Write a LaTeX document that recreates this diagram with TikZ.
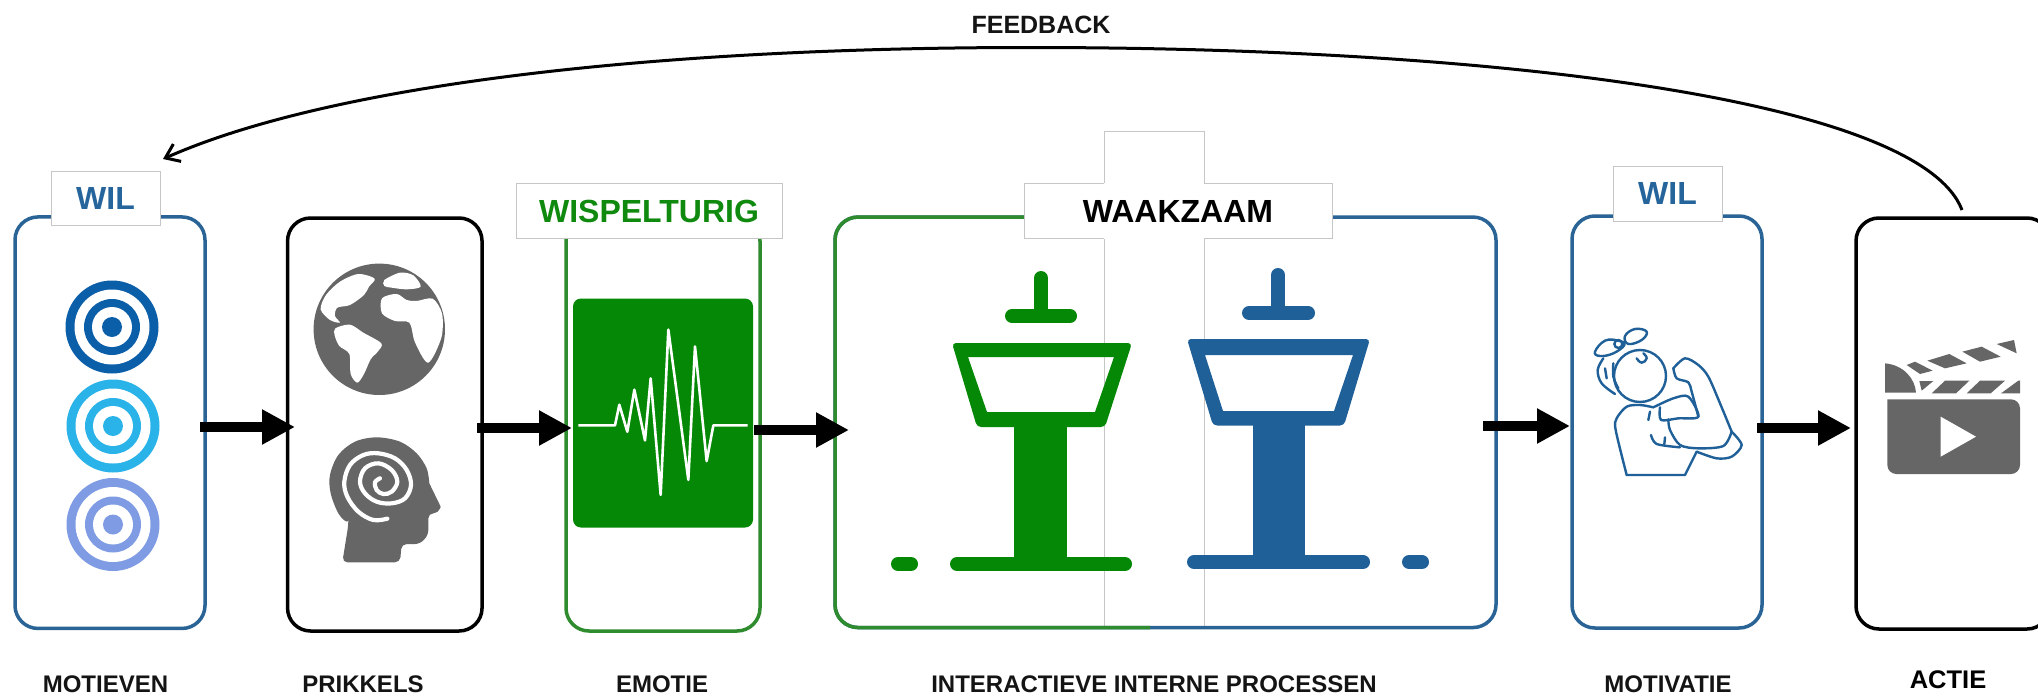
\documentclass[tikz,border=0pt]{standalone}
\usepackage{fontspec}
\setmainfont{Liberation Sans}
\usetikzlibrary{arrows.meta}
\definecolor{boxblue}{HTML}{2A6496}
\definecolor{boxgreen}{HTML}{2E8B2E}
\definecolor{iconblue}{HTML}{1F6098}
\definecolor{icongreen}{HTML}{058805}
\definecolor{icongray}{HTML}{666666}
\definecolor{lblgreen}{HTML}{0F8A0F}
\definecolor{lblblue}{HTML}{25659B}
\definecolor{edgegray}{HTML}{C6C6C6}
\tikzset{
  procbox/.style={rectangle,rounded corners=23pt,line width=3.5pt,inner sep=0pt,outer sep=0pt},
  tag/.style={rectangle,draw=edgegray,fill=white,line width=1pt,inner sep=0pt,outer sep=0pt,font=\fontsize{32}{32}\selectfont\bfseries},
  caption/.style={inner sep=0pt,font=\fontsize{24}{24}\selectfont\bfseries,text=black!92},
  flow/.style={line width=10.5pt,-{Triangle[length=33pt,width=33pt]}},
  pill/.style={line width=14pt,line cap=round},
  zoomthree/.style={x=.33333pt,y=-.33333pt},
}
\begin{document}
\begin{tikzpicture}[x=1pt,y=-1pt]
\path[use as bounding box,fill=white] (0,0) rectangle (2038,696);
\clip (0,0) rectangle (2038,696);

% column behind the WAAKZAAM tag
\node[rectangle,draw=edgegray,line width=1pt,inner sep=0pt,outer sep=0pt,minimum width=100pt,minimum height=497pt] (col) at (1154,380) {};

% process boxes
\node[procbox,draw=boxblue,minimum width=190pt,minimum height=411.5pt] (b1) at (110,422.7) {};
\node[procbox,draw=black,minimum width=194.5pt,minimum height=413pt] (b2) at (384.8,424.5) {};
\node[procbox,draw=boxgreen,minimum width=194pt,minimum height=413pt] (b3) at (663,424.5) {};
\node[procbox,draw=boxblue,minimum width=661pt,minimum height=410.5pt] (b4) at (1165.5,422.3) {};
\coordinate (split) at (1150,423);
\draw[boxgreen,line width=3.5pt,rounded corners=23pt] (split |- b4.south) -| (b4.north west) -- (split |- b4.north);
\node[procbox,draw=boxblue,minimum width=190pt,minimum height=412pt] (b5) at (1667,422) {};
\node[procbox,draw=black,minimum width=194pt,minimum height=411pt] (b6) at (1953,423.5) {};

% tags
\node[tag,text=lblblue,minimum width=109pt,minimum height=54pt] (t1) at (105.5,198) {WIL};
\node[tag,text=lblgreen,minimum width=266pt,minimum height=54.5pt] (t3) at (649,211) {WISPELTURIG};
\node[tag,text=black,minimum width=308pt,minimum height=54.5pt] (t4) at (1178,211) {WAAKZAAM};
\draw[white,line width=2pt] (col.west |- t4.north) -- (col.east |- t4.north);
\draw[white,line width=2pt] (col.west |- t4.south) -- (col.east |- t4.south);
\node[tag,text=lblblue,minimum width=109pt,minimum height=55pt] (t5) at (1667.5,193.5) {WIL};

% targets
\foreach \cx/\cy/\col in {112/327/0B5EA8, 113/426/29B3E8, 113/524.5/7E9BE3}{
  \definecolor{ringcol}{HTML}{\col}
  \fill[ringcol] (\cx,\cy) circle[radius=46.5];
  \fill[white] (\cx,\cy) circle[radius=37.5];
  \fill[ringcol] (\cx,\cy) circle[radius=28];
  \fill[white] (\cx,\cy) circle[radius=20];
  \fill[ringcol] (\cx,\cy) circle[radius=10];
}

% globe
\fill[icongray] (379.3,329.3) circle[radius=65.7];
\begin{scope}[shift={(300pt,-250pt)},zoomthree]
\fill[white] plot[smooth cycle,tension=.5] coordinates {(62,178)(78,135)(120,95)(175,72)(224,86)(207,110)(192,135)(150,165)(112,173)(105,198)(120,218)(90,210)};
\fill[white] plot[smooth cycle,tension=.5] coordinates {(253,90)(300,68)(340,76)(362,110)(320,118)(275,113)(253,108)};
\fill[white] plot[smooth cycle,tension=.5] coordinates {(106,235)(150,224)(190,248)(244,280)(234,304)(212,328)(192,372)(172,398)(152,372)(148,312)(118,288)(104,256)};
\fill[white] plot[smooth cycle,tension=.5] coordinates {(246,145)(290,132)(320,150)(350,153)(398,146)(426,190)(426,255)(404,312)(385,338)(368,322)(343,272)(328,218)(285,213)(246,190)};
\end{scope}

% head with spiral
\begin{scope}[shift={(310pt,-425pt)},zoomthree]
\fill[icongray] plot[smooth,tension=.55] coordinates {(115,300)(85,265)(62,205)(60,150)(85,90)(135,50)(200,37)(270,50)(320,85)(350,130)(358,175)}
  -- (392,245) [rounded corners=5pt] -- (385,265) -- (355,265) -- (355,330) -- (330,357) -- (275,357) -- (270,412) -- (97,412) -- (115,300) -- cycle;
\draw[white,line width=4.2pt,line cap=round] plot[smooth,tension=.6] coordinates {(232,281)(190,285)(145,260)(112,215)(103,170)(120,120)(160,90)(205,85)(255,100)(290,135)(303,180)(285,220)(245,235)(200,230)(165,205)(150,170)(165,130)(205,115)(245,135)(262,170)(245,200)(220,207)(200,195)(195,172)(210,160)};
\end{scope}

% emotion tile
\node[rectangle,fill=icongreen,rounded corners=8pt,inner sep=0pt,minimum width=180pt,minimum height=229pt] (tile) at (663,413) {};
\begin{scope}[shift={(520pt,-108pt)},x=.33333pt,y=-.3756pt]
\draw[white,line width=2.6pt,line join=round] (175,845) -- (285,845) -- (298,790) -- (322,862) -- (343,750) -- (375,885) -- (392,720) -- (422,1030) -- (445,590) -- (505,990) -- (525,635) -- (560,940) -- (580,845) -- (683,845);
\end{scope}

% green tower
\fill[icongreen,even odd rule,rounded corners=4pt] (952,343) -- (1132,343) -- (1105,427) -- (977,427) -- cycle
  [sharp corners] (968,357) -- (1114,357) -- (1095,412) -- (987,412) -- cycle;
\fill[icongreen] (1014,420) rectangle (1067,564);
\draw[icongreen,pill] (957,564) -- (1125,564);
\draw[icongreen,pill] (898,564) -- (911,564);
\draw[icongreen,pill] (1012,316) -- (1070,316);
\draw[icongreen,pill] (1041,278) -- (1041,316);

% blue tower
\fill[iconblue,even odd rule,rounded corners=4pt] (1187,339) -- (1370,339) -- (1344,425.5) -- (1213,425.5) -- cycle
  [sharp corners] (1205,355) -- (1353,355) -- (1334,411) -- (1223,411) -- cycle;
\fill[iconblue] (1253,420) rectangle (1305,562);
\draw[iconblue,pill] (1194,562) -- (1363,562);
\draw[iconblue,pill] (1409,562) -- (1422,562);
\draw[iconblue,pill] (1249,313) -- (1308,313);
\draw[iconblue,pill] (1278,275) -- (1278,313);

% woman flexing
\begin{scope}[shift={(1585pt,-320pt)},zoomthree,iconblue,line width=2.4pt,line join=round,line cap=round]
\draw (165,168) circle[radius=78];
\draw plot[smooth,tension=.6] coordinates {(55,115)(38,150)(50,190)(90,222)};
\draw plot[smooth cycle,tension=.7] coordinates {(30,95)(60,62)(100,62)(118,75)(85,100)(45,108)};
\draw plot[smooth cycle,tension=.7] coordinates {(120,48)(150,27)(185,35)(170,60)(130,72)};
\draw (100,72) circle[radius=12];
\draw (60,145) -- (65,175);
\draw plot[smooth,tension=.6] coordinates {(85,130)(85,170)(100,205)};
\draw plot[smooth,tension=.8] coordinates {(155,115)(170,128)(185,115)(175,100)};
\draw plot[smooth,tension=.5] coordinates {(125,465)(92,330)(95,295)(125,260)(165,255)(205,262)};
\draw (125,465) -- (300,465) -- (335,395);
\draw plot[smooth,tension=.5] coordinates {(265,145)(300,115)(340,135)(370,170)(405,250)(440,335)};
\draw plot[smooth,tension=.5] coordinates {(265,145)(275,175)(310,187)(320,215)(340,290)};
\draw plot[smooth,tension=.5] coordinates {(440,335)(470,375)(440,410)(395,415)(335,395)};
\draw plot[smooth,tension=.5] coordinates {(440,335)(415,378)(340,385)(285,375)(255,330)(250,298)};
\draw plot[smooth,tension=.5] coordinates {(205,262)(265,235)(310,230)(340,290)(280,295)(228,300)(225,262)};
\draw (195,275) -- (190,300);
\draw plot[smooth,tension=.5] coordinates {(198,345)(215,372)(285,382)};
\draw (240,352) -- (238,372);
\end{scope}

% clapperboard
\begin{scope}[shift={(1870pt,-330pt)},zoomthree,icongray]
\fill[rounded corners=9pt] (52,208) -- (52,432) -- (450,432) -- (450,208) [sharp corners] -- cycle;
\fill[white] (212,260) -- (318,320) -- (212,380) -- cycle;
\fill (45,188) -- (45,100) .. controls (100,105) and (135,145) .. (138,188) -- cycle;
\fill (148,153) -- (190,153) -- (155,182) -- cycle;
\fill (185,190) -- (225,152) -- (298,152) -- (258,190) -- cycle;
\fill (290,190) -- (330,152) -- (405,152) -- (362,190) -- cycle;
\fill (393,190) -- (445,152) -- (450,152) -- (450,190) -- cycle;
\fill (110,105) -- (135,95) -- (188,122) -- (150,132) -- cycle;
\fill (172,92) -- (238,72) -- (290,100) -- (225,115) -- cycle;
\fill (277,65) -- (335,50) -- (392,80) -- (330,95) -- cycle;
\fill (380,42) -- (432,30) -- (440,70) -- cycle;
\end{scope}

% flow arrows
\coordinate (s1) at (200,427);  \coordinate (e1) at (295,427);
\coordinate (s2) at (477,428);  \coordinate (e2) at (572,428);
\coordinate (s3) at (754,430);  \coordinate (e3) at (849,430);
\coordinate (s4) at (1483,426); \coordinate (e4) at (1570,426);
\coordinate (s5) at (1757,428); \coordinate (e5) at (1851,428);
\draw[flow] (s1) -- (e1);
\draw[flow] (s2) -- (e2);
\draw[flow] (s3) -- (e3);
\draw[flow] (s4) -- (e4);
\draw[flow] (s5) -- (e5);

% feedback
\coordinate (fbs) at (1962,210);
\coordinate (fbm) at (1030,47.5);
\coordinate (fbe) at (163,159);
\draw[line width=3pt,-{Straight Barb[length=13pt,width=19pt,line width=3pt]}] (fbs) .. controls (1920,100) and (1500,47.5) .. (fbm) .. controls (650,47.5) and (330,85) .. (fbe);
\node[caption,font=\fontsize{25}{25}\selectfont\bfseries] (fbl) at (1041,25) {FEEDBACK};

% captions
\node[caption] (c1) at (105.5,684) {MOTIEVEN};
\node[caption] (c2) at (363,684) {PRIKKELS};
\node[caption] (c3) at (662,684) {EMOTIE};
\node[caption] (c4) at (1154,684) {INTERACTIEVE INTERNE PROCESSEN};
\node[caption] (c5) at (1668,684) {MOTIVATIE};
\node[caption,font=\fontsize{25.5}{25.5}\selectfont\bfseries,text=black] (c6) at (1948,680) {ACTIE};
\end{tikzpicture}
\end{document}
